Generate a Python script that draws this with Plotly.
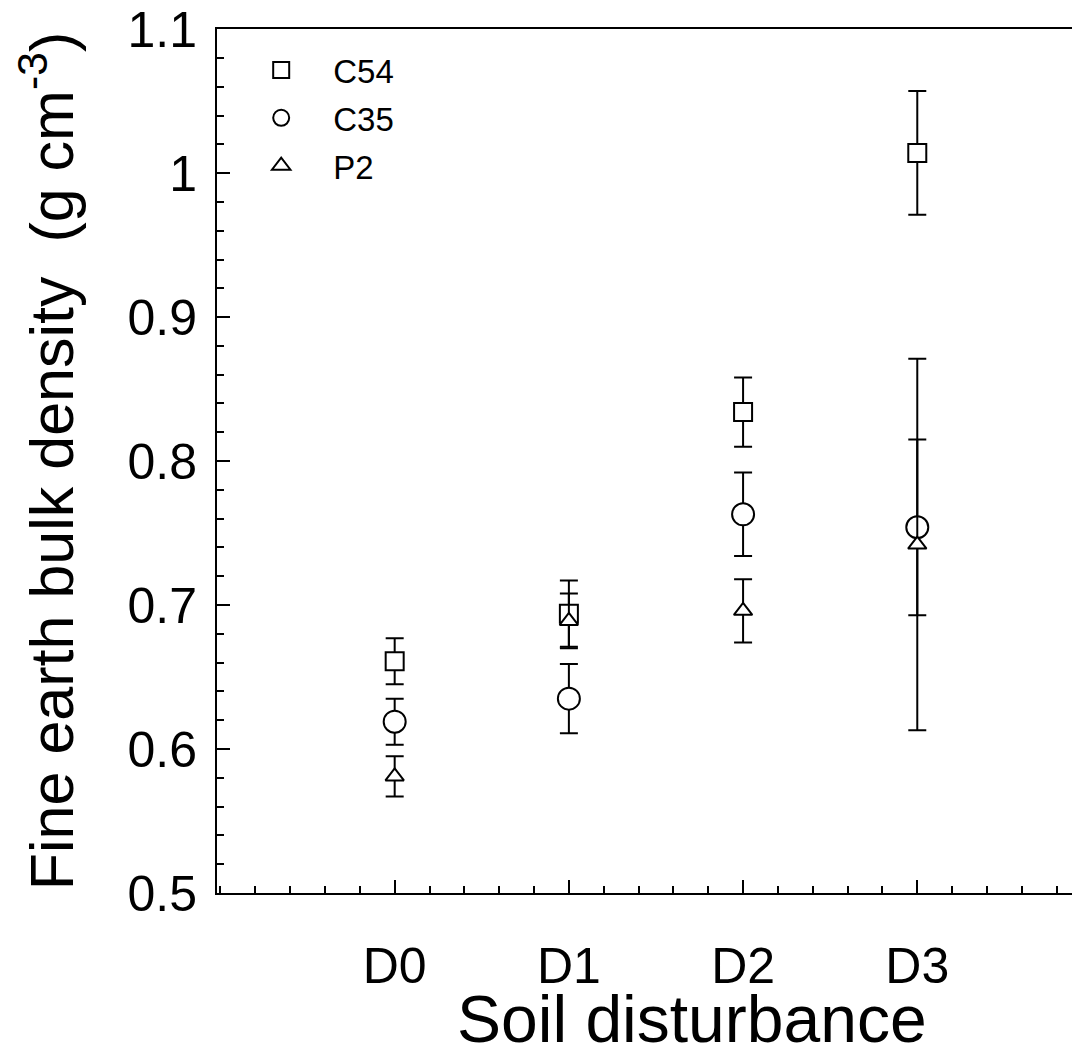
import plotly.graph_objects as go

# category positions and labels
categories = ["D0", "D1", "D2", "D3"]
x_pos = [0, 1, 2, 3]

# fine earth bulk density (g cm-3), mean and error
c54 = [0.661, 0.694, 0.834, 1.014]
c54_err = [0.016, 0.023, 0.024, 0.043]
c35 = [0.619, 0.635, 0.763, 0.754]
c35_err = [0.016, 0.024, 0.029, 0.061]
p2 = [0.581, 0.689, 0.696, 0.742]
p2_err = [0.014, 0.019, 0.022, 0.129]

y_ticks = [0.5, 0.6, 0.7, 0.8, 0.9, 1.0, 1.1]
y_ticktext = ["0.5", "0.6", "0.7", "0.8", "0.9", "1", "1.1"]

FONT = "Liberation Sans, Arial, Helvetica, sans-serif"

series = [
    ("C54", c54, c54_err, "square", 18),
    ("C35", c35, c35_err, "circle", 22),
    ("P2", p2, p2_err, "triangle-up", 16),
]

fig = go.Figure()
for name, vals, errs, symbol, size in series:
    fig.add_trace(
        go.Scatter(
            x=x_pos,
            y=vals,
            mode="markers",
            name=name,
            legendgroup=name,
            marker=dict(symbol=symbol, size=size, color="white",
                        line=dict(color="black", width=2)),
            error_y=dict(type="data", array=errs, visible=True,
                         color="black", thickness=2, width=9),
        )
    )

# page body adds an 8px offset, margins compensate for it
fig.update_layout(
    width=1080,
    height=1053,
    margin=dict(l=209, r=0, t=21, b=168),
    plot_bgcolor="white",
    paper_bgcolor="white",
    font=dict(family=FONT, color="black"),
    showlegend=True,
    legend=dict(
        x=0.014, y=0.985, xanchor="left", yanchor="top",
        font=dict(size=33, family=FONT),
        bgcolor="rgba(0,0,0,0)",
        tracegroupgap=2,
        itemwidth=94,
    ),
    xaxis=dict(
        range=[-1.02, 3.98],
        tickvals=x_pos,
        ticktext=categories,
        ticks="inside",
        ticklen=13,
        tickwidth=2,
        tickcolor="black",
        showline=True,
        linecolor="black",
        linewidth=2,
        mirror=True,
        showgrid=False,
        zeroline=False,
        tickfont=dict(size=50),
        ticklabelstandoff=28,
        minor=dict(ticks="inside", dtick=0.2, tick0=0, ticklen=7,
                   tickwidth=2, tickcolor="black", showgrid=False),
    ),
    yaxis=dict(
        range=[0.5, 1.1001],
        tickvals=y_ticks,
        ticktext=y_ticktext,
        ticks="inside",
        ticklen=13,
        tickwidth=2,
        tickcolor="black",
        showline=True,
        linecolor="black",
        linewidth=2,
        showgrid=False,
        zeroline=False,
        automargin="left",
        tickfont=dict(size=50),
        ticklabelstandoff=8,
        ticklabeloverflow="allow",
        title=dict(text="Fine earth bulk density  (g cm<sup>-3</sup>)",
                   font=dict(size=61), standoff=45),
        minor=dict(ticks="inside", dtick=0.02, tick0=0.5, ticklen=7,
                   tickwidth=2, tickcolor="black", showgrid=False),
    ),
    annotations=[
        dict(text="Soil disturbance", xref="paper", yref="paper",
             x=0.545, y=-0.146, xanchor="center", yanchor="middle",
             showarrow=False, font=dict(size=66, family=FONT)),
    ],
)

fig.write_html("out.html")
